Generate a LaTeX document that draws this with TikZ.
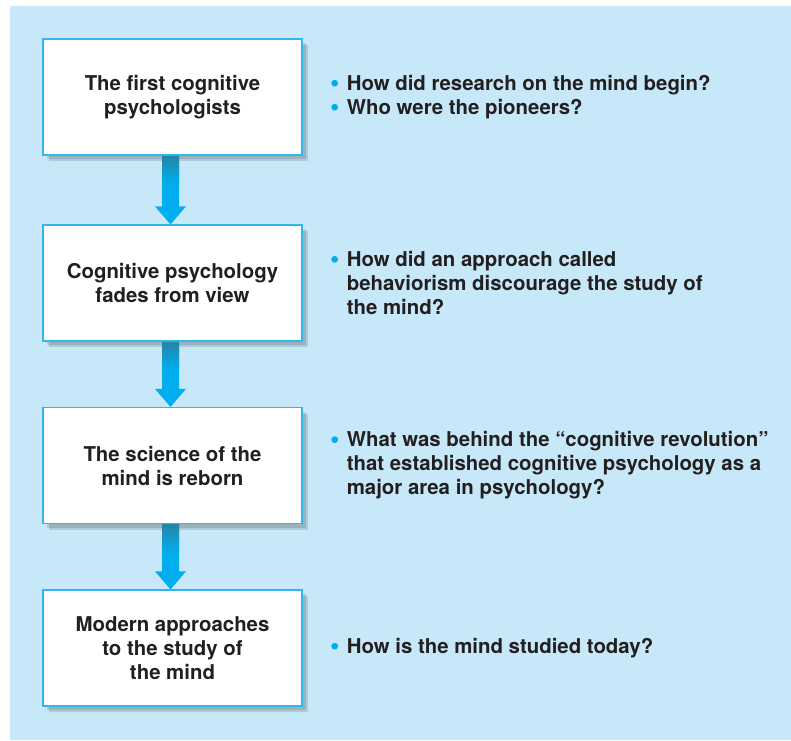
\documentclass[tikz,border=0pt]{standalone}
\usepackage{fontspec}
\setmainfont{TeX Gyre Heros}
\usetikzlibrary{positioning,calc,shadows}
\definecolor{panel}{HTML}{C7E8F8}
\definecolor{boxline}{HTML}{35B6EA}
\definecolor{arrowblue}{HTML}{00AEEF}
\definecolor{arrowdark}{HTML}{2585A8}
\definecolor{ink}{HTML}{231F20}
\newcommand{\blt}{\makebox[16pt][l]{\hspace*{0.5pt}\raisebox{3.8pt}{\tikz\fill[arrowblue] (0,0) circle (3.4pt);}}}
\newcommand{\flowarrow}[2]% from, to
{\fill[arrowblue] ($(#1.south)+(-10.5,0)$) -- ($(#1.south)+(6.5,0)$) -- ($(#2.north)+(6.5,-18)$)
  -- ($(#2.north)+(13.5,-18)$) -- ($(#2.north)+(-2,0)$) -- ($(#2.north)+(-17.5,-18)$)
  -- ($(#2.north)+(-10.5,-18)$) -- cycle;
 \shade[top color=arrowdark, bottom color=arrowblue] ($(#1.south)+(-10.5,0.5)$) rectangle ($(#1.south)+(6.5,28)$);
}

\begin{document}
\begin{tikzpicture}[x=1pt,y=-1pt,
	font=\fontsize{20.4}{24}\selectfont\bfseries, text=ink,
	stage/.style={draw=boxline, line width=1.2pt, fill=white, minimum width=259pt, minimum height=116pt,
		align=center, inner sep=0pt,
		drop shadow={shadow xshift=6pt, shadow yshift=-6pt, opacity=.12, fill=black},
		drop shadow={shadow xshift=4pt, shadow yshift=-4pt, opacity=.12, fill=black}},
	question/.style={align=left, inner sep=0pt, anchor=west}]
	\useasboundingbox (0,0) rectangle (791,740);
	\fill[panel] (10,6) rectangle (791,740);
	\node[stage] (first) at (172.5,97){The first cognitive\\psychologists};%1
	\node[stage] (fades) at (172.5,283){Cognitive psychology\\fades from view};%2
	\node[stage] (reborn) at (172.5,465.5){The science of the\\mind is reborn};%3
	\node[stage] (modern) at (172.5,648){Modern approaches\\to the study of\\the mind};%4
	\node[question, right=28pt of first] (qfirst){\blt How did research on the mind begin?\\
		\blt Who were the pioneers?};
	\node[question, right=28pt of fades] (qfades){\blt How did an approach called\\
		\hspace*{16pt}behaviorism discourage the study of\\\hspace*{16pt}the mind?};
	\node[question, right=28pt of reborn] (qreborn){\blt What was behind the “cognitive revolution”\\
		\hspace*{16pt}that established cognitive psychology as a\\\hspace*{16pt}major area in psychology?};
	\node[question, right=28pt of modern] (qmodern){\blt How is the mind studied today?};
	\flowarrow{first}{fades}
	\flowarrow{fades}{reborn}
	\flowarrow{reborn}{modern}
\end{tikzpicture}
\end{document}
